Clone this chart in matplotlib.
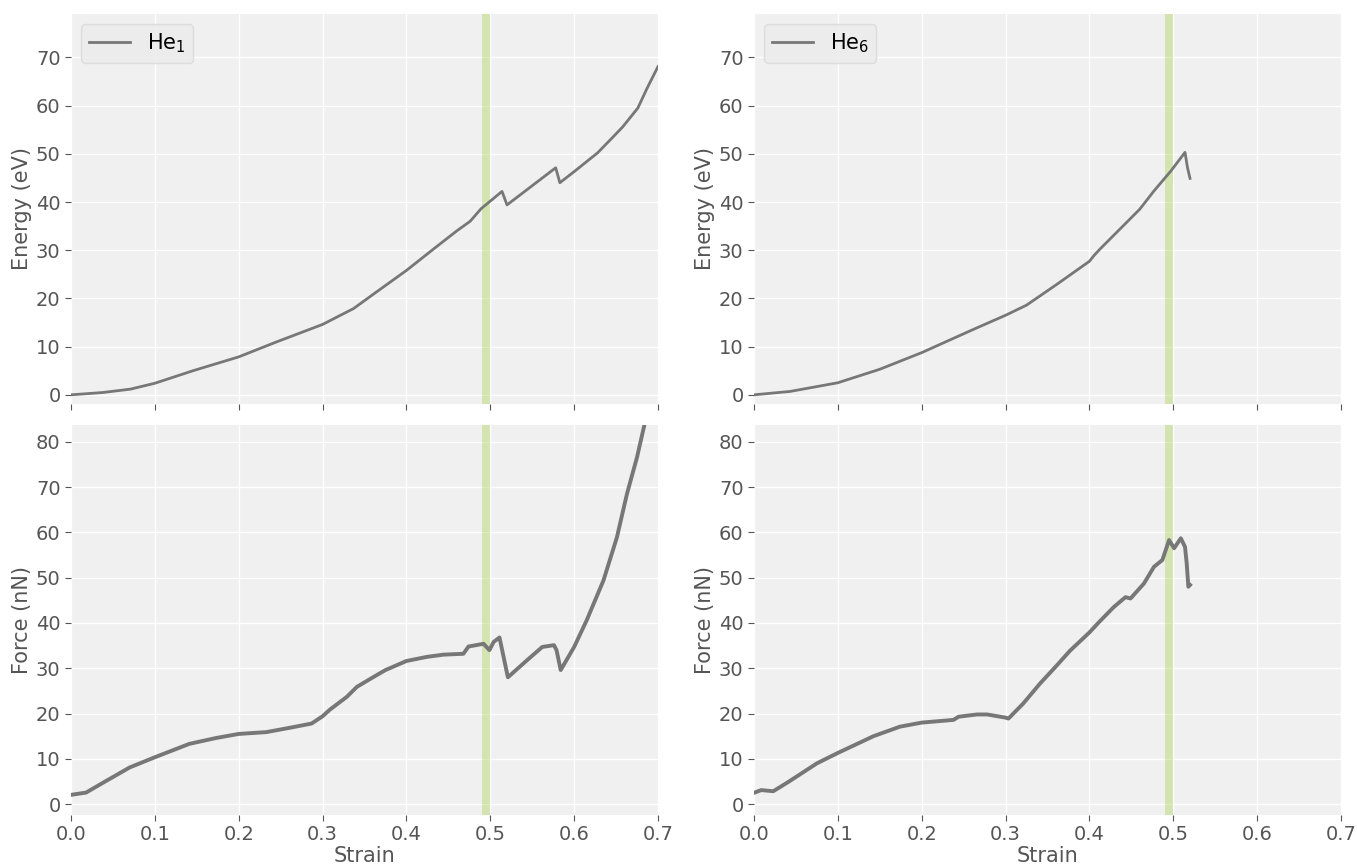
import matplotlib
matplotlib.use("Agg")
import matplotlib.pyplot as plt

# He1 energy (strain, eV)
he1_e_strain = [0.0, 0.038, 0.071, 0.1, 0.145, 0.2, 0.245, 0.3, 0.337, 0.36, 0.4,
                0.432, 0.46, 0.476, 0.489, 0.514, 0.52, 0.578, 0.583, 0.6, 0.628,
                0.647, 0.658, 0.676, 0.687, 0.7]
he1_e_val = [0.0, 0.48, 1.18, 2.4, 4.97, 7.87, 10.97, 14.6, 17.9, 20.8, 25.8,
             30.2, 34.0, 36.0, 38.6, 42.2, 39.4, 47.1, 44.0, 46.3, 50.2,
             53.6, 55.6, 59.5, 63.6, 68.1]

# He1 force (strain, nN)
he1_f_strain = [0.0, 0.018, 0.038, 0.07, 0.1, 0.141, 0.173, 0.2, 0.233, 0.265,
                0.287, 0.3, 0.309, 0.329, 0.341, 0.361, 0.375, 0.4, 0.424, 0.444,
                0.468, 0.474, 0.492, 0.499, 0.504, 0.511, 0.521, 0.544, 0.562,
                0.576, 0.579, 0.584, 0.6, 0.615, 0.635, 0.651, 0.663, 0.675,
                0.684, 0.69]
he1_f_val = [2.05, 2.55, 4.7, 8.1, 10.35, 13.3, 14.6, 15.5, 15.9, 17.0,
             17.8, 19.4, 20.9, 23.7, 25.9, 28.1, 29.6, 31.6, 32.5, 33.0,
             33.2, 34.8, 35.4, 34.0, 35.8, 36.8, 28.0, 31.8, 34.7,
             35.1, 34.0, 29.6, 34.7, 40.6, 49.4, 58.9, 68.5, 76.6,
             83.9, 88.0]

# He6 energy (strain, eV)
he6_e_strain = [0.0, 0.043, 0.1, 0.15, 0.2, 0.262, 0.3, 0.325, 0.361, 0.4, 0.406,
                0.413, 0.46, 0.477, 0.497, 0.514, 0.517, 0.52]
he6_e_val = [0.0, 0.7, 2.5, 5.3, 8.75, 13.6, 16.5, 18.6, 22.9, 27.7, 29.0,
             30.3, 38.5, 42.3, 46.4, 50.3, 47.1, 44.9]

# He6 force (strain, nN)
he6_f_strain = [0.0, 0.0087, 0.023, 0.041, 0.075, 0.1, 0.1425, 0.174, 0.2, 0.238,
                0.244, 0.266, 0.278, 0.3, 0.3035, 0.321, 0.341, 0.361, 0.377, 0.4,
                0.411, 0.429, 0.443, 0.449, 0.465, 0.477, 0.487, 0.495, 0.501,
                0.509, 0.514, 0.516, 0.518, 0.52]
he6_f_val = [2.5, 3.1, 2.85, 4.9, 9.0, 11.3, 15.0, 17.1, 18.0, 18.6,
             19.3, 19.8, 19.8, 19.1, 18.9, 22.2, 26.6, 30.6, 33.9, 37.9,
             40.1, 43.5, 45.7, 45.4, 48.7, 52.4, 53.9, 58.3, 56.5,
             58.7, 56.8, 53.2, 48.0, 48.4]

band = (0.49, 0.50)
line_color = "#777777"
label_color = "#555555"

fig, axes = plt.subplots(2, 2, figsize=(13.57, 8.65), dpi=100, sharex=True)
fig.subplots_adjust(left=0.0523, right=0.9882, top=0.9838, bottom=0.0578,
                    wspace=0.1635, hspace=0.054)

panels = [
    (axes[0, 0], he1_e_strain, he1_e_val, r"He$_1$", 2.0),
    (axes[0, 1], he6_e_strain, he6_e_val, r"He$_6$", 2.0),
    (axes[1, 0], he1_f_strain, he1_f_val, None, 2.8),
    (axes[1, 1], he6_f_strain, he6_f_val, None, 2.8),
]

for ax, xs, ys, lab, lw in panels:
    ax.set_facecolor("#f0f0f0")
    ax.grid(True, color="white", linewidth=1.0)
    ax.set_axisbelow(True)
    for sp in ax.spines.values():
        sp.set_visible(False)
    ax.axvspan(band[0], band[1], color="yellowgreen", alpha=0.33, linewidth=0)
    ax.plot(xs, ys, color=line_color, linewidth=lw, label=lab)
    ax.tick_params(colors=label_color, labelsize=14, length=4, width=0.8)
    ax.set_xlim(0, 0.7)
    if lab:
        leg = ax.legend(loc="upper left", fontsize=15, frameon=True,
                        facecolor="#ebebeb", edgecolor="#d8d8d8",
                        handlelength=2.0, borderpad=0.35)
        for t in leg.get_texts():
            t.set_color("black")

for ax in axes[0]:
    ax.set_ylim(-1.9, 79)
    ax.set_yticks(range(0, 71, 10))
    ax.set_ylabel("Energy (eV)", fontsize=15, color=label_color, labelpad=3)
for ax in axes[1]:
    ax.set_ylim(-2.4, 83.7)
    ax.set_yticks(range(0, 81, 10))
    ax.set_ylabel("Force (nN)", fontsize=15, color=label_color, labelpad=3)
    ax.set_xlabel("Strain", fontsize=15, color=label_color, labelpad=1)
    ax.set_xticks([0.0, 0.1, 0.2, 0.3, 0.4, 0.5, 0.6, 0.7])

fig.savefig("out.png", dpi=100)
